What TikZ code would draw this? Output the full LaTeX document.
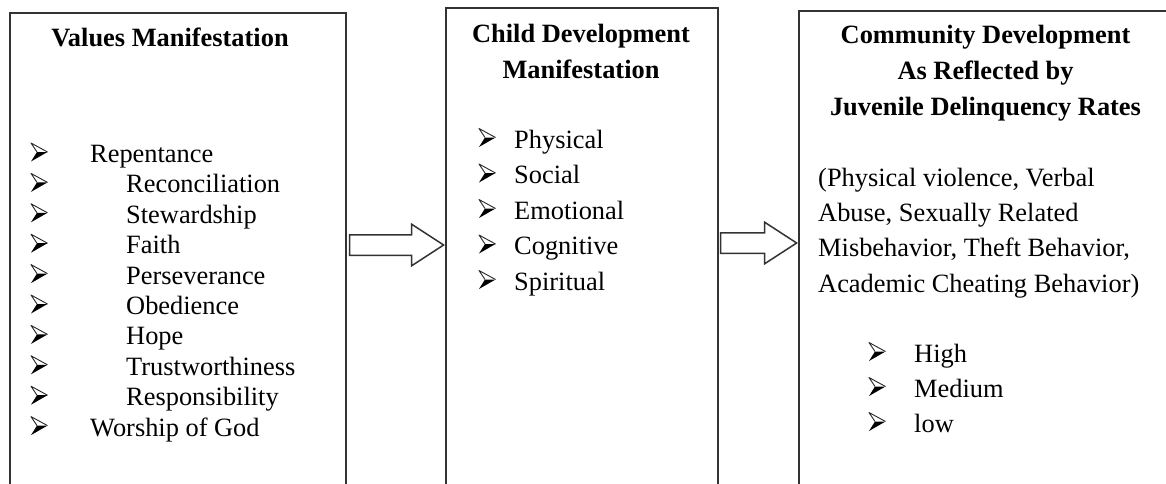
\documentclass[tikz,border=0pt]{standalone}
\usepackage{fontspec}
\setmainfont{Liberation Serif}
\usetikzlibrary{shapes.arrows}

\tikzset{
frame/.style={draw=black!80, line width=1.6pt, minimum height=520pt, anchor=north west, inner sep=0pt},
heading/.style={font=\fontsize{26.4pt}{36pt}\selectfont\bfseries, align=center, anchor=base, inner sep=0pt},
entry/.style={font=\fontsize{26.4pt}{30pt}\selectfont, anchor=base west, inner sep=0pt},
blockarrow/.style={draw=black!80, line width=1.5pt, single arrow, single arrow head extend=10.5pt, single arrow tip angle=66, inner xsep=0pt, inner ysep=9.5pt, anchor=tip},
% list marker: dark lower half, light upper half
arrowhd/.pic={
\fill[black] (0,-1) -- (16.5,-10.5) -- (6,-10.5) -- cycle;
\draw[black!85, line width=0.9pt, line join=round] (6,-10.5) -- (0,-19.5) -- (16.5,-10.5);
}
}

\begin{document}
\begin{tikzpicture}[x=1pt,y=-1pt]
\path[use as bounding box, clip] (0,0) rectangle (1166,484);

% three frames, running off the bottom of the page
\node[frame, minimum width=336pt] (values) at (9,12) {};
\node[frame, minimum width=272pt] (child) at (445,7) {};
\node[frame, minimum width=420pt] (community) at (798,10) {};

% headings (placed on the baseline of their last line)
\node[heading] (valuesTitle) at (170,47) {Values Manifestation};
\node[heading] (childTitle) at (581,79) {Child Development\\Manifestation};
\node[heading] (communityTitle) at (985.5,116) {Community Development\\As Reflected by\\Juvenile Delinquency Rates};

% values, 1 = indented entry
\foreach \ind/\word [count=\i from 0] in {0/Repentance, 1/Reconciliation, 1/Stewardship, 1/Faith, 1/Perseverance, 1/Obedience, 1/Hope, 1/Trustworthiness, 1/Responsibility, 0/Worship of God}
{
\pic (vb\i) at (31,162.5+30.4*\i) {arrowhd};
\node[entry] (v\i) at (90+36*\ind,162.5+30.4*\i) {\word};
}

% child development
\foreach \word [count=\i from 0] in {Physical, Social, Emotional, Cognitive, Spiritual}
{
\pic (cb\i) at (479,148+35.5*\i) {arrowhd};
\node[entry] (c\i) at (514,148+35.5*\i) {\word};
}

% delinquency rates
\node[entry, align=left, font=\fontsize{26.4pt}{35.3pt}\selectfont] (behaviours) at (818,292) {(Physical violence, Verbal\\Abuse, Sexually Related\\Misbehavior, Theft Behavior,\\Academic Cheating Behavior)};
\foreach \word [count=\i from 0] in {High, Medium, low}
{
\pic (rb\i) at (869,362+35*\i) {arrowhd};
\node[entry] (r\i) at (914,362+35*\i) {\word};
}

% block arrows between the frames
\node[blockarrow, minimum height=94pt] (arrA) at (child.west |- 0,245) {};
\node[blockarrow, minimum height=76pt] (arrB) at (community.west |- 0,243) {};

\end{tikzpicture}
\end{document}
